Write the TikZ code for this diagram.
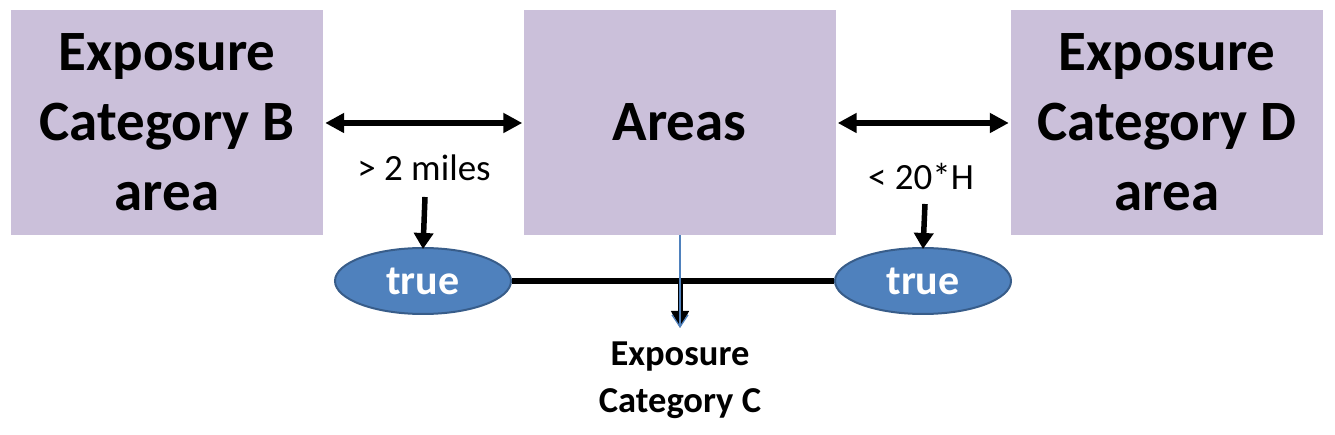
\documentclass[tikz,border=0pt]{standalone}
\usepackage{fontspec}
\setmainfont{Carlito}
\usetikzlibrary{arrows.meta,shapes.geometric}
\definecolor{boxfill}{HTML}{CBC0DA}
\definecolor{ellfill}{HTML}{4F81BD}
\definecolor{elldraw}{HTML}{385D8A}
\tikzset{
  area/.style={fill=boxfill, minimum width=312pt, minimum height=225pt, inner sep=0pt,
    align=center, font=\fontsize{57}{70}\selectfont\bfseries},
  trueell/.style={ellipse, fill=ellfill, draw=elldraw, line width=2pt, minimum width=176pt,
    minimum height=66pt, inner sep=0pt, text=white, font=\fontsize{42}{46}\selectfont\bfseries},
  cond/.style={font=\fontsize{37}{40}\selectfont},
  thickarrow/.style={line width=5.5pt, -{Triangle[length=16pt,width=19pt]}},
  dblarrow/.style={line width=5.5pt, {Triangle[length=19pt,width=19pt]}-{Triangle[length=19pt,width=19pt]}},
}
\begin{document}
\begin{tikzpicture}[x=1pt,y=-1pt]
\useasboundingbox (0,0) rectangle (1335,435);
\node[area] (B) at (167,122.5) {Exposure\\Category B\\area};
\node[area] (A) at (679.5,122.5) {Areas};
\node[area] (D) at (1167,122.5) {Exposure\\Category D\\area};
\draw[dblarrow] ([xshift=2pt]B.east |- 0,123) -- ([xshift=-1pt]A.west |- 0,123);
\draw[dblarrow] ([xshift=2pt]A.east |- 0,123) -- ([xshift=-2pt]D.west |- 0,123);
\node[cond] (c1) at (424,168) {> 2 miles};
\node[cond] (c2) at (921,176) {< 20*H};
\node[trueell] (t1) at (423,281) {true};
\node[trueell] (t2) at (923,281) {true};
\coordinate (a1) at (425,197);
\coordinate (a2) at (925,204);
\draw[thickarrow] (a1) -- ([yshift=-2pt]t1.north);
\draw[thickarrow] (a2) -- ([yshift=-2pt]t2.north);
\draw[line width=6pt] (t1.east) -- (t2.west);
\coordinate (j) at (680,281);
\coordinate (tip) at (680,328);
\draw[line width=5pt, -{Triangle[length=17pt,width=17pt]}] (j) -- (tip);
\draw[color=ellfill, line width=1.3pt, -{Straight Barb[length=12pt,width=16pt]}] (A.south -| tip) -- (tip);
\node[align=center, font=\fontsize{36.5}{47}\selectfont\bfseries] (C) at (680,380) {Exposure\\Category C};
\end{tikzpicture}
\end{document}
